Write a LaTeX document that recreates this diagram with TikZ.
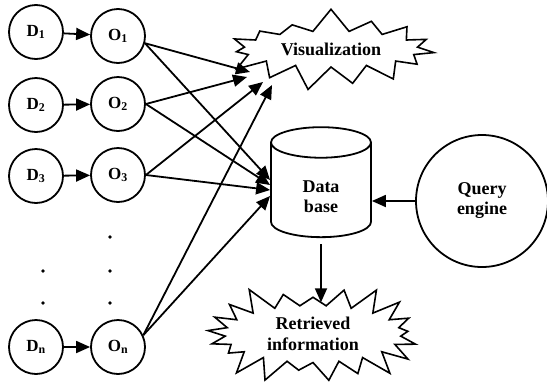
\documentclass[tikz,border=0pt]{standalone}
\usepackage{fontspec}
\setmainfont{Liberation Serif}
\usetikzlibrary{arrows.meta,shapes.geometric,shapes.symbols,calc}

\begin{document}
\begin{tikzpicture}[x=1pt, y=-1pt,
    proc/.style={draw, circle, line width=1.8pt, minimum size=54pt, inner sep=0pt, font=\fontsize{17}{18}\selectfont\bfseries},
    burst/.style={draw, starburst, line width=1.6pt, align=center, font=\fontsize{18}{21}\selectfont\bfseries},
    big/.style={draw, line width=1.8pt, align=center, font=\fontsize{18}{20}\selectfont\bfseries},
    arr/.style={-{Triangle[length=14pt,width=12pt]}, line width=1.8pt}
]
\useasboundingbox (0,0) rectangle (547,389);

\node[proc] (d1) at (36,32) {D\textsubscript{1}};
\node[proc] (d2) at (36,105) {D\textsubscript{2}};
\node[proc] (d3) at (36,176) {D\textsubscript{3}};
\node[proc] (dn) at (36,347) {D\textsubscript{n}};
\node[proc] (o1) at (118,36) {O\textsubscript{1}};
\node[proc] (o2) at (118,104) {O\textsubscript{2}};
\node[proc] (o3) at (118,175) {O\textsubscript{3}};
\node[proc] (on) at (118,347) {O\textsubscript{n}};

\fill (110,237) circle (1.8);
\fill (110,271) circle (1.8);
\fill (110,303) circle (1.8);
\fill (43,271) circle (1.8);
\fill (43,303) circle (1.8);

\node[burst, minimum width=222pt, minimum height=84pt, starburst points=15, starburst point height=24pt, random starburst=7] (vis) at (331,49) {Visualization};
\node[big, cylinder, shape border rotate=90, aspect=0.7, minimum width=100pt, minimum height=110pt] (db) at (321,193) {\raisebox{-10pt}[0pt][0pt]{\begin{tabular}{@{}c@{}}Data\\base\end{tabular}}};
\node[big, circle, minimum size=132pt, inner sep=0pt] (qe) at (482,201) {Query\\engine};
\node[burst, minimum width=228pt, minimum height=100pt, starburst points=21, starburst point height=26pt, random starburst=3] (ret) at (313,334) {Retrieved\\information};

\coordinate (v1) at ([shift={(-81,23)}]vis.center);
\coordinate (v2) at ([shift={(-84,28)}]vis.center);
\coordinate (v3) at ([shift={(-68,33)}]vis.center);
\coordinate (vn) at ([shift={(-59,36)}]vis.center);

\draw[arr] (d1) -- (o1);
\draw[arr] (d2) -- (o2);
\draw[arr] (d3) -- (o3);
\draw[arr] (dn) -- (on);

\draw[arr] (o1.-15) -- (v1);
\draw[arr] (o2.east) -- (v2);
\draw[arr] (o3.east) -- (v3);
\draw[arr] (on.25) -- (vn);
\draw[arr] (o1.-15) -- ([yshift=13pt]db.west);
\draw[arr] (o2.east) -- ([yshift=8pt]db.west);
\draw[arr] (o3.east) -- ([yshift=3pt]db.west);
\draw[arr] (on.25) -- ([yshift=-3pt]db.west);

\draw[arr] (qe.west) -- (qe.west -| db.east);
\draw[arr] ([yshift=-6pt]db.south) -- ([yshift=-6pt]db.south |- ret.north);
\end{tikzpicture}
\end{document}
